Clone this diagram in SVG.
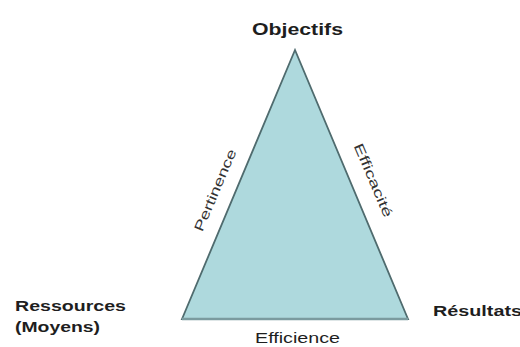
<svg xmlns="http://www.w3.org/2000/svg" width="520" height="347" viewBox="0 0 520 347">
  <style>
    .lbl { font-family: "Liberation Sans", Arial, sans-serif; fill: #1e1e1e; }
    .b { font-weight: bold; }
    .side { font-size: 13.5px; fill: #333333; }
  </style>
  <rect x="0" y="0" width="520" height="347" fill="#ffffff"/>

  <!-- triangle -->
  <g id="triangle">
    <polygon points="295,50 182,319 408,319" fill="#aed9dd" stroke="#4f6b6e" stroke-width="1.8" stroke-linejoin="miter"/>
    <line x1="182" y1="319" x2="408" y2="319" stroke="#7b9b9f" stroke-width="2.6"/>
  </g>

  <!-- corner labels -->
  <g id="objectifs">
    <text class="lbl b" x="252" y="35" font-size="17" textLength="91" lengthAdjust="spacingAndGlyphs">Objectifs</text>
  </g>
  <g id="ressources">
    <text class="lbl b" x="15" y="311" font-size="15" textLength="111" lengthAdjust="spacingAndGlyphs">Ressources</text>
    <text class="lbl b" x="15" y="332" font-size="15" textLength="85" lengthAdjust="spacingAndGlyphs">(Moyens)</text>
  </g>
  <g id="resultats">
    <text class="lbl b" x="433" y="316" font-size="15" textLength="89" lengthAdjust="spacingAndGlyphs">Résultats</text>
  </g>

  <!-- edge labels -->
  <g id="connectors">
    <text class="lbl side" x="219.5" y="192" text-anchor="middle" textLength="88" lengthAdjust="spacingAndGlyphs" transform="rotate(-67 219.5 192)">Pertinence</text>
    <text class="lbl side" x="369" y="182" text-anchor="middle" textLength="79" lengthAdjust="spacingAndGlyphs" transform="rotate(67 369 182)">Efficacité</text>
    <text class="lbl" x="255" y="343" font-size="15" fill="#2a2a2a" textLength="85" lengthAdjust="spacingAndGlyphs">Efficience</text>
  </g>
</svg>
